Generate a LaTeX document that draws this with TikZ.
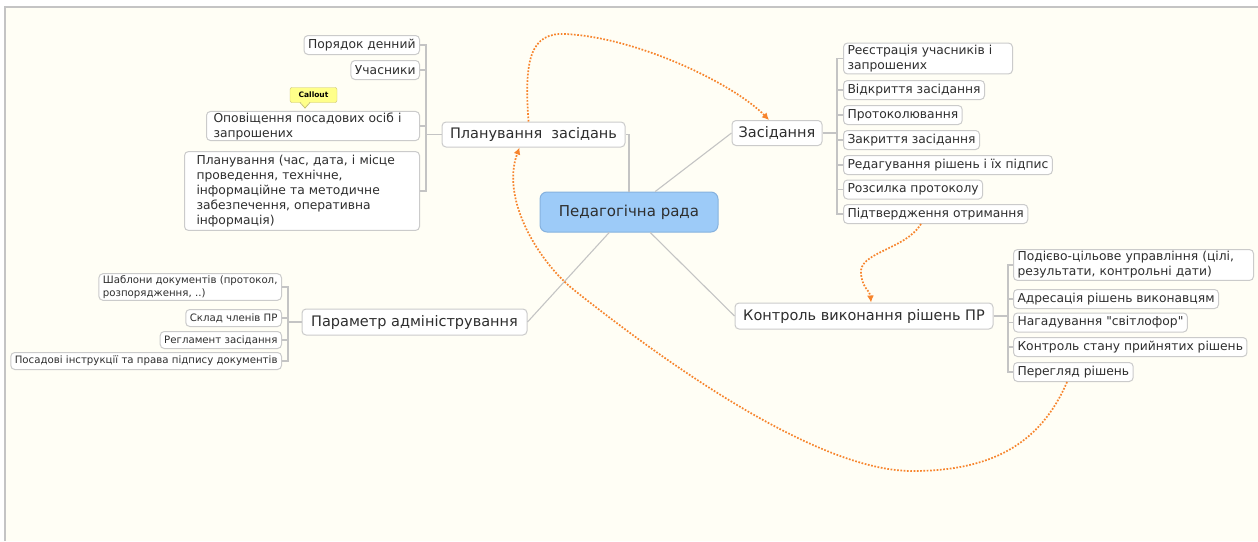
\documentclass[tikz,border=0pt]{standalone}
\usepackage{fontspec}
\setmainfont{DejaVu Sans}
\newfontfamily\plainquotes{DejaVu Sans}
\usetikzlibrary{arrows.meta, calc}
\definecolor{PaperCream}{HTML}{FFFEF5}
\definecolor{FrameGray}{HTML}{C4C4C4}
\definecolor{BoxGray}{HTML}{CBCBCB}
\definecolor{LinkGray}{HTML}{C4C4C4}
\definecolor{TopicText}{HTML}{2E2E2E}
\definecolor{CentralBlue}{HTML}{9DCBF8}
\definecolor{CentralEdge}{HTML}{86B2DE}
\definecolor{RelOrange}{HTML}{F7842C}
\definecolor{CalloutYellow}{HTML}{FFFF8A}
\definecolor{CalloutEdge}{HTML}{C8C270}

\tikzset{
  topic/.style={draw=BoxGray, fill=white, rounded corners=4pt, line width=1pt,
    text=TopicText, inner xsep=5pt, inner ysep=3pt, font=\fontsize{14.5}{17}\selectfont},
  subtopic/.style={topic, font=\fontsize{12.3}{15}\selectfont, inner xsep=4pt,
    inner ysep=2pt, minimum height=19pt, align=left},
  smalltopic/.style={topic, font=\fontsize{10.2}{12.5}\selectfont, inner xsep=4pt,
    inner ysep=2pt, minimum height=17pt, align=left},
  link/.style={draw=LinkGray, line width=1.1pt},
  relation/.style={draw=RelOrange, line width=1.7pt, dash pattern=on 1.7pt off 1.6pt,
    -{Latex[length=7pt,width=7pt]}},
}

\begin{document}
\begin{tikzpicture}[x=1pt, y=-1pt]
\useasboundingbox (0,0) rectangle (1258,541);
\fill[white] (0,0) rectangle (1258,541);
\fill[PaperCream] (5,7) rectangle (1258,541);
\draw[FrameGray, line width=2pt] (5,541) -- (5,7) -- (1258,7);

% central topic and main branches
\node[topic, fill=CentralBlue, draw=CentralEdge, rounded corners=7pt, font=\fontsize{15}{18}\selectfont,
      minimum width=178pt, minimum height=40pt] (rada) at (629,212) {Педагогічна рада};
\node[topic, minimum width=183pt, minimum height=25pt] (plan) at (533.5,134.5) {Планування\ \ засідань};
\node[topic, minimum width=90pt, minimum height=25pt] (zas) at (777,133) {Засідання};
\node[topic, minimum width=225pt, minimum height=26pt] (param) at (414.5,322) {Параметр адміністрування};
\node[topic, minimum width=258pt, minimum height=26pt] (kontr) at (864,316) {Контроль виконання рішень ПР};

% planning
\node[subtopic, anchor=east] (poryadok) at (420,45) {Порядок денний};
\node[subtopic, anchor=east] (uchasnyky) at (420,70) {Учасники};
\node[subtopic, anchor=east, text width=199pt, inner xsep=7pt, inner ysep=1pt]
  (opovisch) at (420,126) {Оповіщення посадових осіб і\\запрошених};
\node[subtopic, anchor=east, text width=211pt, inner xsep=12pt, inner ysep=3.5pt]
  (planinfo) at (420,191) {Планування (час, дата, і місце\\проведення, технічне,\\інформаційне та методичне\\забезпечення, оперативна\\інформація)};
\node[draw=CalloutEdge, fill=CalloutYellow, rounded corners=2pt, inner sep=1pt,
      font=\fontsize{7.5}{9}\bfseries\selectfont, minimum width=47pt, minimum height=15pt]
  (callout) at (313.5,95) {Callout};
\fill[CalloutYellow] (300,101) -- (305,108) -- (310,101) -- cycle;
\draw[CalloutEdge, line width=0.8pt] (300,102.5) -- (305,108) -- (310,102.5);

% meeting
\node[subtopic, anchor=west, text width=161pt] (reestr) at (843,58.5) {Реєстрація учасників і\\запрошених};
\node[subtopic, anchor=west] (vidkr) at (843,90) {Відкриття засідання};
\node[subtopic, anchor=west] (protok) at (843,115) {Протоколювання};
\node[subtopic, anchor=west] (zakr) at (843,140) {Закриття засідання};
\node[subtopic, anchor=west] (redag) at (843,165) {Редагування рішень і їх підпис};
\node[subtopic, anchor=west] (rozsyl) at (843,189.5) {Розсилка протоколу};
\node[subtopic, anchor=west] (pidtv) at (843,214) {Підтвердження отримання};

% control
\node[subtopic, anchor=west, text width=232pt] (podiev) at (1013,265) {Подієво-цільове управління (цілі,\\результати, контрольні дати)};
\node[subtopic, anchor=west] (adres) at (1013,299) {Адресація рішень виконавцям};
\node[subtopic, anchor=west] (nagad) at (1013,322.5) {Нагадування {\plainquotes"}світлофор{\plainquotes"}};
\node[subtopic, anchor=west] (stan) at (1013,347) {Контроль стану прийнятих рішень};
\node[subtopic, anchor=west] (pereg) at (1013,372) {Перегляд рішень};

% administration
\node[smalltopic, anchor=east] (shabl) at (282,287) {Шаблони документів (протокол,\\розпорядження, ..)};
\node[smalltopic, anchor=east] (sklad) at (282,318) {Склад членів ПР};
\node[smalltopic, anchor=east] (reglam) at (282,340) {Регламент засідання};
\node[smalltopic, anchor=east] (posad) at (282,361) {Посадові інструкції та права підпису документів};

% links
\draw[link] (rada.north) |- (plan.east);
\draw[link] (rada.38) -- (zas.west);
\draw[link] (rada.226) -- (param.east);
\draw[link] (rada.-44) -- (kontr.west);

\draw[link] (plan.west) -- (426,134.5) coordinate (planspine);
\foreach \n in {poryadok, uchasnyky, opovisch, planinfo}
  \draw[link] (planspine) |- (\n.east);
\draw[link] (zas.east) -- (837,133) coordinate (zasspine);
\foreach \n in {reestr, vidkr, protok, zakr, redag, rozsyl, pidtv}
  \draw[link] (zasspine) |- (\n.west);
\draw[link] (kontr.east) -- (1008,316) coordinate (kontrspine);
\foreach \n in {podiev, adres, nagad, stan, pereg}
  \draw[link] (kontrspine) |- (\n.west);
\draw[link] (param.west) -- (288,322) coordinate (paramspine);
\foreach \n in {shabl, sklad, reglam, posad}
  \draw[link] (paramspine) |- (\n.east);

% relationships
\draw[relation] ($(plan.north)+(-5,0)$) .. controls (524,60) and (530,32) .. (566,34)
  .. controls (640,38) and (735,85) .. ($(zas.north)+(-8,0)$);
\draw[relation] ($(pidtv.south west)+(78,0)$) .. controls (905,250) and (858,252) .. (861,274)
  .. controls (863,290) and (870,290) .. ($(kontr.north)+(7,0)$);
\draw[relation] ($(pereg.south west)+(54,0)$) .. controls (1040,445) and (990,471) .. (912,471)
  .. controls (830,471) and (700,390) .. (574,290)
  .. controls (540,263) and (500,200) .. ($(plan.south)+(-14,0)$);
\end{tikzpicture}
\end{document}
